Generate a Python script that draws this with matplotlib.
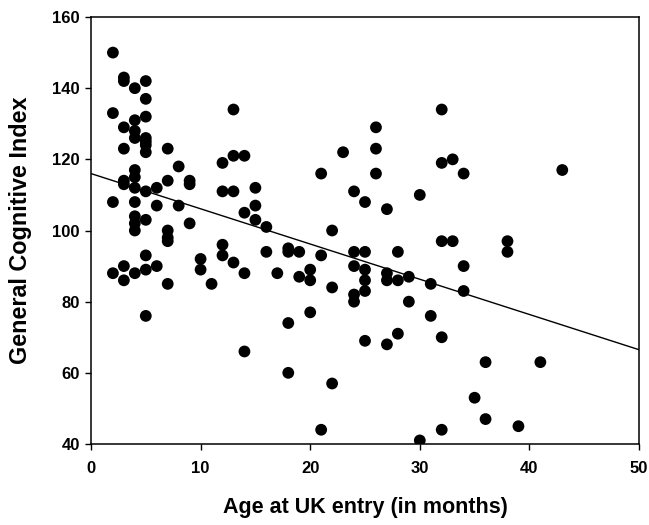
import numpy as np
import matplotlib
matplotlib.use("Agg")
from matplotlib import pyplot as plt

# age at UK entry (months) and General Cognitive Index
age = [2, 2, 2, 2,
       3, 3, 3, 3, 3, 3, 3, 3,
       4, 4, 4, 4, 4, 4, 4, 4, 4, 4, 4, 4,
       5, 5, 5, 5, 5, 5, 5, 5, 5, 5, 5, 5,
       6, 6, 6,
       7, 7, 7, 7, 7, 7,
       8, 8,
       9, 9, 9,
       10, 10,
       11,
       12, 12, 12, 12,
       13, 13, 13, 13,
       14, 14, 14, 14,
       15, 15, 15,
       16, 16,
       17,
       18, 18, 18, 18,
       19, 19,
       20, 20, 20,
       21, 21, 21,
       22, 22, 22,
       23,
       24, 24, 24, 24, 24,
       25, 25, 25, 25, 25, 25,
       26, 26, 26,
       27, 27, 27, 27,
       28, 28, 28,
       29, 29,
       30, 30,
       31, 31,
       32, 32, 32, 32, 32,
       33, 33,
       34, 34, 34,
       35,
       36, 36,
       38, 38,
       39,
       41,
       43]

gci = [150, 133, 108, 88,
       143, 142, 129, 123, 114, 113, 90, 86,
       140, 131, 128, 126, 117, 115, 112, 108, 104, 102, 100, 88,
       142, 137, 132, 126, 125, 124, 122, 111, 103, 93, 89, 76,
       112, 107, 90,
       123, 114, 100, 98, 97, 85,
       118, 107,
       114, 113, 102,
       92, 89,
       85,
       119, 111, 96, 93,
       134, 121, 111, 91,
       121, 105, 88, 66,
       112, 107, 103,
       101, 94,
       88,
       95, 94, 74, 60,
       94, 87,
       89, 86, 77,
       116, 93, 44,
       100, 84, 57,
       122,
       111, 94, 90, 82, 80,
       108, 94, 89, 86, 83, 69,
       129, 123, 116,
       106, 88, 86, 68,
       94, 86, 71,
       87, 80,
       110, 41,
       85, 76,
       134, 119, 97, 70, 44,
       120, 97,
       116, 90, 83,
       53,
       63, 47,
       97, 94,
       45,
       63,
       117]

# regression line ends as drawn on the chart
fit_x = [0, 50]
fit_y = [116, 66.5]

x_ticks = [0, 10, 20, 30, 40, 50]
y_ticks = [40, 60, 80, 100, 120, 140, 160]

plt.rcParams['font.family'] = ['Liberation Sans', 'DejaVu Sans']
plt.rcParams['font.weight'] = 'bold'

fig = plt.figure(figsize=(6.49, 5.25), dpi=100)
ax = fig.add_axes([0.1402, 0.1543, 0.8444, 0.8133])

ax.scatter(age, gci, s=72, color='black', edgecolors='none', zorder=3)
ax.plot(fit_x, fit_y, color='black', linewidth=1.0, zorder=2)

ax.set_xlim(0, 50)
ax.set_ylim(40, 160)
ax.set_xticks(x_ticks)
ax.set_yticks(y_ticks)
ax.tick_params(direction='out', length=4, width=1, labelsize=12)
ax.tick_params(axis='x', pad=8)
ax.tick_params(axis='y', pad=4)
for side in ax.spines.values():
    side.set_linewidth(1.1)

ax.set_xlabel("Age at UK entry (in months)", fontsize=15.5, fontweight='bold')
ax.set_ylabel("General Cognitive Index", fontsize=16.8, fontweight='bold')
ax.xaxis.set_label_coords(0.5, -0.125)
ax.yaxis.set_label_coords(-0.107, 0.5)

fig.savefig("out.png", dpi=100)
